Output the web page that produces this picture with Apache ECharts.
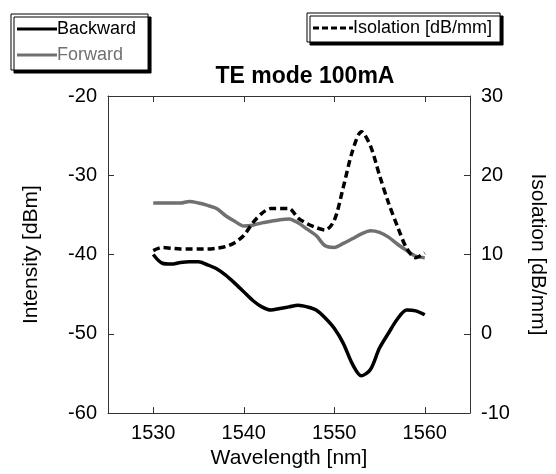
<!DOCTYPE html>
<html>
<head>
<meta charset="utf-8">
<script src="https://cdn.jsdelivr.net/npm/echarts@6/dist/echarts.min.js"></script>
<style>
  html, body { margin: 0; padding: 0; background: #fff; }
  #chart { width: 556px; height: 474px; }
</style>
</head>
<body>
<div id="chart"></div>
<script>
// wavelength samples [nm]
var wavelength = [1530, 1531, 1532, 1533, 1534, 1535, 1536, 1537, 1538, 1539,
  1540, 1541, 1542, 1543, 1544, 1545, 1546, 1547, 1548, 1549,
  1550, 1551, 1552, 1553, 1554, 1555, 1556, 1557, 1558, 1559, 1560];

// intensity [dBm]
var backward = [-40.0, -41.1, -41.2, -41.0, -40.9, -40.9, -41.3, -41.8, -42.6, -43.6,
  -44.7, -45.8, -46.6, -47.0, -46.8, -46.6, -46.4, -46.6, -47.0, -48.0,
  -49.3, -51.2, -53.8, -55.3, -54.5, -51.8, -49.9, -48.1, -47.0, -47.1, -47.6];
var forward = [-33.5, -33.5, -33.5, -33.5, -33.3, -33.5, -33.8, -34.2, -35.1, -35.8,
  -36.4, -36.3, -36.0, -35.8, -35.6, -35.5, -36.0, -36.8, -37.6, -38.9,
  -39.1, -38.6, -38.0, -37.4, -37.0, -37.2, -37.8, -38.7, -39.5, -40.2, -40.4];

// isolation [dB/mm]
var isolation = [10.5, 10.9, 10.8, 10.7, 10.7, 10.7, 10.7, 10.8, 11.0, 11.5,
  12.4, 14.0, 15.2, 15.8, 15.8, 15.8, 14.6, 13.9, 13.4, 13.1,
  14.3, 18.5, 23.0, 25.5, 23.7, 20.0, 16.5, 13.5, 10.8, 9.6, 10.2];

var xTicks = [1530, 1540, 1550, 1560];

function pairs(xs, ys) {
  return xs.map(function (x, i) { return [x, ys[i]]; });
}

var FONT = 'Liberation Sans';
var axisCol = '#333';
// legend line icons (no marker)
var solidIcon = 'path://M0,0h40v3h-40z';
var dashIcon = 'path://M0,0h6v3h-6z M9,0h6v3h-6z M18,0h6v3h-6z M27,0h6v3h-6z M36,0h4v3h-4z';

var chart = echarts.init(document.getElementById('chart'));

var legendBox = {
  backgroundColor: '#fff',
  borderColor: '#000', borderWidth: 1, borderRadius: 0,
  shadowColor: '#000', shadowBlur: 0, shadowOffsetX: 3, shadowOffsetY: 3
};

var option = {
  animation: false,
  textStyle: { fontFamily: FONT, color: '#000' },
  title: {
    text: 'TE mode 100mA',
    left: 300, top: 60,
    textAlign: 'center',
    textStyle: { fontFamily: FONT, fontSize: 23, fontWeight: 'bold', color: '#000' }
  },
  legend: [
    Object.assign({
      left: 11, top: 14,
      orient: 'vertical',
      data: [
        { name: 'Backward', icon: solidIcon, textStyle: { color: '#000' } },
        { name: 'Forward', icon: solidIcon, textStyle: { color: '#707070' } }
      ],
      itemWidth: 40, itemHeight: 3, itemGap: 8,
      padding: [6, 12, 6, 6],
      textStyle: { fontFamily: FONT, fontSize: 18, padding: [0, 0, 0, -5] }
    }, legendBox),
    Object.assign({
      left: 307, top: 13,
      data: [{ name: 'Isolation [dB/mm]', icon: dashIcon }],
      itemWidth: 40, itemHeight: 3,
      padding: [6, 8, 5, 6],
      textStyle: { fontFamily: FONT, fontSize: 18, color: '#000', padding: [0, 0, 0, -5] }
    }, legendBox)
  ],
  grid: { left: 108, right: 83, top: 96, bottom: 56, show: false },
  xAxis: [
    {
      type: 'value', min: 1525, max: 1565,
      name: 'Wavelength [nm]', nameLocation: 'middle', nameGap: 34,
      nameTextStyle: { fontFamily: FONT, fontSize: 21, color: '#000' },
      axisLine: { onZero: false, lineStyle: { color: axisCol, width: 1 } },
      axisTick: { inside: true, length: 6, lineStyle: { color: axisCol },
        customValues: xTicks },
      axisLabel: { fontSize: 20, color: '#000', margin: 10, customValues: xTicks,
        formatter: function (v) { return String(v); } },
      splitLine: { show: false }
    },
    {
      type: 'value', min: 1525, max: 1565, position: 'top',
      axisLine: { show: true, onZero: false, lineStyle: { color: axisCol, width: 1 } },
      axisTick: { inside: true, length: 6, lineStyle: { color: axisCol },
        customValues: xTicks },
      axisLabel: { show: false },
      splitLine: { show: false }
    }
  ],
  yAxis: [
    {
      type: 'value', min: -60, max: -20, interval: 10,
      name: 'Intensity [dBm]', nameLocation: 'middle', nameGap: 66,
      nameTextStyle: { fontFamily: FONT, fontSize: 21, color: '#000' },
      axisLine: { show: true, onZero: false, lineStyle: { color: axisCol, width: 1 } },
      axisTick: { show: true, inside: true, length: 6, lineStyle: { color: axisCol } },
      axisLabel: { fontSize: 20, color: '#000', margin: 11 },
      splitLine: { show: false }
    },
    {
      type: 'value', min: -10, max: 30, interval: 10, position: 'right',
      name: 'Isolation [dB/mm]', nameLocation: 'middle', nameGap: 57,
      nameRotate: -90,
      nameTextStyle: { fontFamily: FONT, fontSize: 21, color: '#000' },
      axisLine: { show: true, onZero: false, lineStyle: { color: axisCol, width: 1 } },
      axisTick: { show: true, inside: true, length: 6, lineStyle: { color: axisCol } },
      axisLabel: { fontSize: 20, color: '#000', margin: 11 },
      splitLine: { show: false }
    }
  ],
  series: [
    {
      name: 'Backward', type: 'line', xAxisIndex: 0, yAxisIndex: 0,
      data: pairs(wavelength, backward),
      symbol: 'none', smooth: 0.3,
      lineStyle: { color: '#000', width: 3.5 },
      itemStyle: { color: '#000' }
    },
    {
      name: 'Forward', type: 'line', xAxisIndex: 0, yAxisIndex: 0,
      data: pairs(wavelength, forward),
      symbol: 'none', smooth: 0.3,
      lineStyle: { color: '#707070', width: 3.5 },
      itemStyle: { color: '#707070' }
    },
    {
      name: 'Isolation [dB/mm]', type: 'line', xAxisIndex: 0, yAxisIndex: 1,
      data: pairs(wavelength, isolation),
      symbol: 'none', smooth: 0.3,
      lineStyle: { color: '#000', width: 3.5, type: [7, 4] },
      itemStyle: { color: '#000' }
    }
  ]
};

chart.setOption(option);
</script>
</body>
</html>
